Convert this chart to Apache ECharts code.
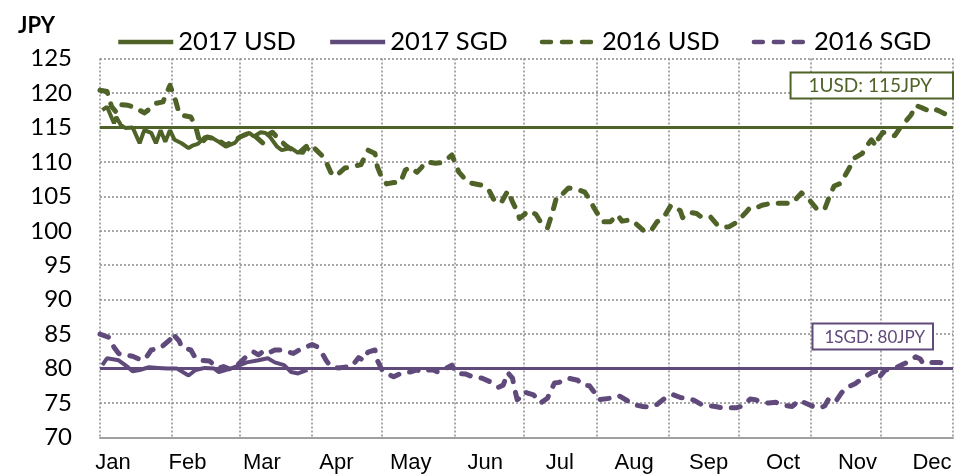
<!DOCTYPE html>
<html>
<head>
<meta charset="utf-8">
<script src="https://cdn.jsdelivr.net/npm/echarts@6/dist/echarts.min.js"></script>
<style>
  html, body { margin: 0; padding: 0; background: #fff; }
  #chart { width: 956px; height: 475px; }
</style>
</head>
<body>
<div id="chart"></div>
<script>
// month labels and month start (day of year, 2016 leap year)
const months = ['Jan', 'Feb', 'Mar', 'Apr', 'May', 'Jun', 'Jul', 'Aug', 'Sep', 'Oct', 'Nov', 'Dec']
const monthStarts = [0, 31, 60, 91, 121, 152, 182, 213, 244, 274, 305, 335, 366]
const yTicks = [70, 125, 5] // min, max, step

// 2017 USD (daily-ish, Jan - Mar)
const usd2017Days = [1, 3, 5, 6, 7, 9, 11, 14, 17, 19, 22, 24, 26, 28, 30, 32, 35, 38, 40, 42, 45, 48, 51, 54, 58, 60, 64, 66, 69, 71, 73, 76, 78, 82, 85, 88, 90]
const usd2017 = [117.5, 118, 116.4, 115.6, 116.5, 115.3, 114.9, 115, 112.7, 114.6, 114.2, 112.7, 114.6, 112.9, 114.6, 113.2, 112.7, 112, 112.4, 112.6, 113.6, 113.5, 112.9, 112.2, 112.8, 113.6, 114.2, 113.7, 114.3, 114.2, 113.6, 112.2, 111.7, 112, 111.3, 112.2, 111.7]

// 2017 SGD
const sgd2017Days = [1, 3, 8, 12, 14, 17, 21, 25, 29, 33, 38, 41, 45, 49, 51, 56, 60, 63, 68, 72, 75, 79, 82, 85, 89]
const sgd2017 = [80.5, 81.5, 81.2, 80.2, 79.6, 79.8, 80.2, 80.1, 80, 80, 79, 79.8, 80.1, 80, 79.5, 80, 80.5, 80.9, 81.2, 81.5, 80.9, 80.5, 79.5, 79.3, 79.8]

// 2016 USD
const usd2016Days = [0, 3, 5, 7, 9, 12, 15, 19, 21, 24, 27, 30, 32, 34, 36, 39, 41, 43, 46, 50, 54, 57, 60, 64, 67, 70, 72, 74, 77, 80, 83, 87, 89, 91, 95, 97, 99, 101, 105, 108, 112, 115, 118, 119, 121, 123, 126, 129, 131, 133, 136, 138, 140, 144, 147, 151, 154, 158, 164, 167, 169, 172, 175, 177, 179, 180, 184, 187, 189, 192, 194, 196, 198, 201, 205, 208, 210, 212, 214, 216, 219, 222, 224, 228, 230, 234, 237, 239, 242, 245, 247, 249, 250, 253, 256, 258, 262, 265, 267, 270, 273, 277, 279, 282, 284, 288, 293, 297, 301, 304, 308, 311, 313, 315, 318, 320, 322, 324, 327, 329, 331, 333, 334, 336, 339, 341, 343, 345, 348, 350, 353, 355, 357, 360, 363, 365]
const usd2016 = [120.4, 120.2, 118, 117.2, 118.3, 118.2, 117.9, 117.1, 117.6, 118.5, 118.7, 121.1, 119.4, 117, 116.7, 116.5, 115.2, 112.6, 113.6, 113.3, 112.4, 113, 113.6, 114.2, 113.6, 112.7, 113.9, 114.3, 113.2, 112.3, 111.6, 111.4, 112.5, 112.3, 111, 110, 108.5, 107.9, 109.1, 109.3, 109.6, 111.7, 111.2, 109.3, 107.6, 106.8, 107, 107.1, 108.8, 109.2, 108.5, 109.2, 110, 109.8, 109.9, 111, 108.5, 107, 106.6, 105.8, 104.5, 104, 105.8, 104.2, 102.8, 101.8, 102.9, 102.4, 101.3, 100.4, 102.5, 105, 105.2, 106.2, 106, 105.6, 104.6, 103.3, 102.2, 101.3, 101.3, 102.3, 101.4, 101.6, 101, 99.8, 100.3, 101.3, 102, 103.7, 103.4, 102.9, 101.9, 102.7, 102.5, 102, 102, 100.8, 100.5, 100.6, 101.2, 102.6, 103.4, 103.4, 103.7, 104, 104, 104, 105.5, 104.6, 103, 103.2, 105, 106.5, 106.9, 108.2, 109.4, 110.6, 111.2, 112.3, 113.2, 112.3, 113.4, 114.3, 113.9, 113.8, 114.8, 115.6, 116.8, 118.2, 117.8, 117.5, 117.8, 117.4, 116.9, 116.4]

// 2016 SGD
const sgd2016Days = [0, 4, 6, 8, 9, 14, 18, 20, 22, 26, 30, 31, 34, 35, 39, 41, 43, 47, 49, 51, 53, 56, 59, 62, 64, 66, 68, 70, 72, 75, 78, 81, 83, 86, 89, 91, 93, 95, 97, 99, 102, 105, 108, 111, 113, 115, 118, 119, 121, 123, 126, 129, 131, 133, 136, 139, 141, 143, 145, 147, 151, 153, 157, 160, 164, 168, 171, 173, 175, 177, 178, 179, 180, 182, 186, 189, 192, 193, 195, 197, 199, 201, 205, 207, 210, 212, 214, 219, 221, 223, 227, 230, 233, 236, 239, 242, 244, 246, 249, 252, 255, 258, 261, 264, 267, 270, 273, 276, 279, 281, 284, 287, 290, 293, 297, 300, 302, 306, 309, 311, 313, 316, 318, 320, 324, 326, 329, 331, 333, 334, 337, 340, 342, 345, 347, 350, 352, 353, 356, 360, 362]
const sgd2016 = [85, 84.5, 83.1, 82.2, 82, 81.8, 81.2, 81.7, 82.7, 83, 84.2, 85.1, 84, 83.1, 82.7, 81.5, 81.2, 81.1, 80.5, 80.1, 80.3, 79.9, 80.5, 81.5, 82.2, 82.4, 82, 82.5, 82.2, 82.7, 82.7, 82.4, 82.2, 82.8, 83.2, 83.5, 83.2, 82.4, 81.2, 80.3, 80.1, 80.2, 80.3, 81.6, 81.2, 82.4, 82.7, 81.2, 79.8, 79.3, 78.8, 79.3, 79.5, 79.5, 79.8, 79.5, 79.8, 79.8, 79.5, 79.8, 80.5, 79.3, 79.2, 78.8, 78.6, 78, 77.3, 77.6, 79.4, 78.6, 76.9, 75.5, 75.7, 76.6, 76.2, 75, 75.7, 76.5, 77.9, 78, 78.4, 78.6, 78.3, 77.6, 77.5, 76.6, 75.5, 75.7, 75.7, 76, 75.2, 74.7, 74.5, 74.4, 74.8, 75.6, 76.1, 76.2, 75.8, 75.7, 75.4, 74.8, 74.6, 74.5, 74.3, 74.3, 74.3, 74.6, 75.6, 75.5, 75.1, 75, 75.1, 74.7, 74.5, 75.4, 75.1, 74.5, 74.3, 74.6, 75.8, 75.4, 76.4, 77.2, 77.8, 78.3, 79, 79.4, 79.6, 78.6, 79.8, 80, 80.2, 80.7, 81, 81.7, 81.4, 80.8, 80.9, 80.9, 80.8]

// reference rates
const usdRef = 115
const sgdRef = 80

const GREEN = '#4F6228'
const PURPLE = '#604A7B'
const GRID_LINE = { color: '#8c8c8c', width: 1.5, type: [2, 2] }

const pairs = (days, vals) => days.map((d, i) => [d, vals[i]])

const refLine = (value, text, color, dist, size, pad) => ({
  silent: true,
  symbol: 'none',
  lineStyle: { color: color, width: 3, type: 'solid' },
  label: {
    show: true,
    position: 'insideEndTop',
    formatter: text,
    distance: dist,
    color: color,
    fontFamily: 'Lato',
    fontSize: size,
    backgroundColor: '#fff',
    borderColor: color,
    borderWidth: 2,
    padding: pad
  },
  data: [{ yAxis: value }]
})

const chart = echarts.init(document.getElementById('chart'))

chart.setOption({
  animation: false,
  legend: {
    top: 29,
    left: 116,
    padding: 0,
    itemWidth: 55,
    itemHeight: 14,
    itemGap: 32,
    itemStyle: { opacity: 0, borderWidth: 0 },
    lineStyle: { width: 4.5 },
    textStyle: { fontFamily: 'Lato', fontSize: 25.5, color: '#000' },
    data: ['2017 USD', '2017 SGD', '2016 USD', '2016 SGD']
  },
  grid: [
    { left: 100, right: 3, top: 58.5, bottom: 37.5 },
    { left: 113, right: 24, top: 58.5, bottom: 37.5 }
  ],
  xAxis: [
    {
      type: 'value',
      gridIndex: 0,
      min: monthStarts[0],
      max: monthStarts[monthStarts.length - 1],
      axisLine: { show: true, onZero: false, lineStyle: { color: '#a0a0a0', width: 2 } },
      axisTick: { show: false, customValues: monthStarts },
      axisLabel: { show: false, customValues: monthStarts },
      splitLine: { show: true, lineStyle: GRID_LINE }
    },
    {
      type: 'category',
      gridIndex: 1,
      boundaryGap: false,
      data: months,
      axisLine: { show: false },
      axisTick: { show: false },
      splitLine: { show: false },
      axisLabel: {
        margin: 14,
        interval: 0,
        fontFamily: 'Liberation Sans',
        fontSize: 22,
        color: '#000'
      }
    }
  ],
  yAxis: [
    {
      type: 'value',
      gridIndex: 0,
      min: yTicks[0],
      max: yTicks[1],
      interval: yTicks[2],
      name: 'JPY',
      nameLocation: 'end',
      nameGap: 22,
      nameTextStyle: {
        fontFamily: 'Lato',
        fontWeight: 'bold',
        fontSize: 22,
        color: '#000',
        align: 'right',
        padding: [0, 45, 0, 0]
      },
      axisLine: { show: false },
      axisTick: { show: false },
      axisLabel: { margin: 28, fontFamily: 'Lato', fontSize: 24, color: '#000' },
      splitLine: { show: true, lineStyle: GRID_LINE }
    },
    { type: 'value', gridIndex: 1, show: false, min: 0, max: 1 }
  ],
  series: [
    {
      name: '2017 USD',
      type: 'line',
      data: pairs(usd2017Days, usd2017),
      showSymbol: false,
      symbol: 'none',
      z: 4,
      lineStyle: { color: GREEN, width: 4 },
      itemStyle: { color: GREEN },
      markLine: refLine(usdRef, '1USD: 115JPY', GREEN, [1, 30], 19, [3, 20, 2, 17])
    },
    {
      name: '2017 SGD',
      type: 'line',
      data: pairs(sgd2017Days, sgd2017),
      showSymbol: false,
      symbol: 'none',
      z: 4,
      lineStyle: { color: PURPLE, width: 4 },
      itemStyle: { color: PURPLE },
      markLine: refLine(sgdRef, '1SGD: 80JPY', PURPLE, [21, 20], 17, [4, 7, 3, 11])
    },
    {
      name: '2016 USD',
      type: 'line',
      data: pairs(usd2016Days, usd2016),
      showSymbol: false,
      symbol: 'none',
      z: 3,
      lineStyle: { color: GREEN, width: 5, type: [9, 11], cap: 'round', join: 'round' },
      itemStyle: { color: GREEN }
    },
    {
      name: '2016 SGD',
      type: 'line',
      data: pairs(sgd2016Days, sgd2016),
      showSymbol: false,
      symbol: 'none',
      z: 3,
      lineStyle: { color: PURPLE, width: 5, type: [9, 11], cap: 'round', join: 'round' },
      itemStyle: { color: PURPLE }
    }
  ]
})

window.addEventListener('resize', () => chart.resize())
</script>
</body>
</html>
